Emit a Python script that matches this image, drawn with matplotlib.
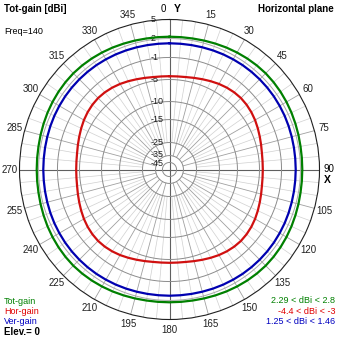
"""
Horizontal plane gain pattern (Freq=140, Elev.=0) as a polar plot
"""

import numpy as np
import matplotlib
matplotlib.use('Agg')
import matplotlib.pyplot as plt

# Azimuth in degrees, 0 = Y axis, clockwise, every 5 degrees
azimuth = list(range(0, 365, 5))

# Gains in dBi (0..355, then back to 0)
tot_gain = [2.29, 2.30, 2.33, 2.40, 2.48, 2.57, 2.65, 2.72, 2.77, 2.80,
            2.77, 2.72, 2.65, 2.57, 2.48, 2.40, 2.33, 2.30,
            2.29, 2.30, 2.33, 2.40, 2.48, 2.57, 2.65, 2.72, 2.77, 2.80,
            2.77, 2.72, 2.65, 2.57, 2.48, 2.40, 2.33, 2.30,
            2.29, 2.30, 2.33, 2.40, 2.48, 2.57, 2.65, 2.72, 2.77, 2.80,
            2.77, 2.72, 2.65, 2.57, 2.48, 2.40, 2.33, 2.30,
            2.29, 2.30, 2.33, 2.40, 2.48, 2.57, 2.65, 2.72, 2.77, 2.80,
            2.77, 2.72, 2.65, 2.57, 2.48, 2.40, 2.33, 2.30,
            2.29]
hor_gain = [-4.40, -4.38, -4.30, -4.12, -3.90, -3.65, -3.40, -3.20, -3.06, -3.00,
            -3.06, -3.20, -3.40, -3.65, -3.90, -4.12, -4.30, -4.38,
            -4.40, -4.38, -4.30, -4.12, -3.90, -3.65, -3.40, -3.20, -3.06, -3.00,
            -3.06, -3.20, -3.40, -3.65, -3.90, -4.12, -4.30, -4.38,
            -4.40, -4.38, -4.30, -4.12, -3.90, -3.65, -3.40, -3.20, -3.06, -3.00,
            -3.06, -3.20, -3.40, -3.65, -3.90, -4.12, -4.30, -4.38,
            -4.40, -4.38, -4.30, -4.12, -3.90, -3.65, -3.40, -3.20, -3.06, -3.00,
            -3.06, -3.20, -3.40, -3.65, -3.90, -4.12, -4.30, -4.38,
            -4.40]
ver_gain = [1.25, 1.25, 1.27, 1.30, 1.34, 1.38, 1.41, 1.44, 1.455, 1.46,
            1.455, 1.44, 1.41, 1.38, 1.34, 1.30, 1.27, 1.25,
            1.25, 1.25, 1.27, 1.30, 1.34, 1.38, 1.41, 1.44, 1.455, 1.46,
            1.455, 1.44, 1.41, 1.38, 1.34, 1.30, 1.27, 1.25,
            1.25, 1.25, 1.27, 1.30, 1.34, 1.38, 1.41, 1.44, 1.455, 1.46,
            1.455, 1.44, 1.41, 1.38, 1.34, 1.30, 1.27, 1.25,
            1.25, 1.25, 1.27, 1.30, 1.34, 1.38, 1.41, 1.44, 1.455, 1.46,
            1.455, 1.44, 1.41, 1.38, 1.34, 1.30, 1.27, 1.25,
            1.25]

# Radial rings (dB) and their labels
ring_db = [5, 2, -1, -5, -10, -15, -25, -35, -45]
ring_labels = ['5', '2', '-1', '-5', '-10', '-15', '-25', '-35', '-45']

# Non-linear radial scale of the plotting program (dB -> fraction of radius)
scale_db = [-55, -45, -35, -25, -15, -10, -5, -1, 2, 5]
scale_pos = [0.0, 0.047, 0.093, 0.18, 0.333, 0.453, 0.60, 0.747, 0.873, 1.0]


def fwd(r):
    return np.interp(r, scale_db, scale_pos)


def inv(p):
    return np.interp(p, scale_pos, scale_db)


FONT = ['Liberation Sans', 'DejaVu Sans']
GREEN = '#008000'
RED = '#e00000'
BLUE = '#0000c0'

fig = plt.figure(figsize=(3.39, 3.39), dpi=100)
fig.patch.set_facecolor('white')

W = 339.0
cx, cy, R = 169.5, 169.5, 150.0
ax = fig.add_axes([(cx - R) / W, (W - cy - R) / W, 2 * R / W, 2 * R / W],
                  projection='polar')
ax.set_theta_zero_location('N')
ax.set_theta_direction(-1)
ax.set_rscale('function', functions=(fwd, inv))
ax.set_rlim(-55, 5)
ax.set_xticks([])
ax.set_yticks([])
ax.grid(False)
ax.spines['polar'].set_color('#202020')
ax.spines['polar'].set_linewidth(0.8)

# Grid: radial lines every 5 degrees, darker every 15
for a in range(0, 360, 5):
    t = np.radians(a)
    if a % 90 == 0:
        ax.plot([t, t], [-55, 5], color='#606060', lw=0.8, zorder=1)
    elif a % 15 == 0:
        ax.plot([t, t], [-35, 5], color='#a0a0a0', lw=0.6, zorder=1)
    else:
        ax.plot([t, t], [-25, 5], color='#d0d0d0', lw=0.5, zorder=1)

full = np.linspace(0, 2 * np.pi, 361)
for d in ring_db[1:]:
    col = '#a8a8a8' if d == 2 else '#8c8c8c'
    ax.plot(full, [d] * len(full), color=col, lw=0.7, zorder=1)

# Pattern curves
th = np.radians(azimuth)
ax.plot(th, tot_gain, color=GREEN, lw=1.6, zorder=3)
ax.plot(th, ver_gain, color='#0000b0', lw=1.6, zorder=3)
ax.plot(th, hor_gain, color='#d01010', lw=1.6, zorder=3)

# Ring labels along the top half of the vertical axis
for d, lab in zip(ring_db, ring_labels):
    nudge = -0.004 if d == -45 else (0.004 if d == -35 else 0.0)
    ax.text((151 - (cx - R)) / (2 * R), 0.5 + 0.5 * fwd(d) + nudge, lab,
            transform=ax.transAxes, ha='left', va='center',
            fontsize=6.5, family=FONT, color='#202020', zorder=2)

# Azimuth labels
for a in range(15, 360, 15):
    if a == 90:
        continue
    t = np.radians(a)
    ax.text(0.5 + 0.5 * 1.067 * np.sin(t), 0.5 + 0.5 * 1.067 * np.cos(t), str(a),
            transform=ax.transAxes, ha='center', va='center',
            fontsize=7, family=FONT, color='#202020')


def px(x, y):
    return x / W, 1 - y / W


fig.text(*px(163, 9), '0', ha='center', va='center', fontsize=7, family=FONT)
fig.text(*px(177, 9), 'Y', ha='center', va='center', fontsize=7.5,
         fontweight='bold', family=FONT)
fig.text(*px(324, 169), '90', ha='left', va='center', fontsize=7, family=FONT)
fig.text(*px(324, 180), 'X', ha='left', va='center', fontsize=7.5,
         fontweight='bold', family=FONT)

# Headers and legend texts
fig.text(*px(4, 9), 'Tot-gain [dBi]', ha='left', va='center', fontsize=7,
         fontweight='bold', family=FONT)
fig.text(*px(334, 9), 'Horizontal plane', ha='right', va='center', fontsize=7,
         fontweight='bold', family=FONT)
fig.text(*px(4, 31), 'Freq=140', ha='left', va='center', fontsize=6.5, family=FONT)

fig.text(*px(4, 301), 'Tot-gain', ha='left', va='center', fontsize=6.5,
         family=FONT, color=GREEN)
fig.text(*px(4, 311.5), 'Hor-gain', ha='left', va='center', fontsize=6.5,
         family=FONT, color=RED)
fig.text(*px(4, 321.5), 'Ver-gain', ha='left', va='center', fontsize=6.5,
         family=FONT, color=BLUE)
fig.text(*px(4, 332), 'Elev.= 0', ha='left', va='center', fontsize=7,
         fontweight='bold', family=FONT)

fig.text(*px(335, 300.5), '2.29 < dBi < 2.8', ha='right', va='center',
         fontsize=6.5, family=FONT, color=GREEN)
fig.text(*px(335, 311), '-4.4 < dBi < -3', ha='right', va='center',
         fontsize=6.5, family=FONT, color=RED)
fig.text(*px(335, 321.5), '1.25 < dBi < 1.46', ha='right', va='center',
         fontsize=6.5, family=FONT, color=BLUE)

fig.savefig('out.png', dpi=100, facecolor='white')
